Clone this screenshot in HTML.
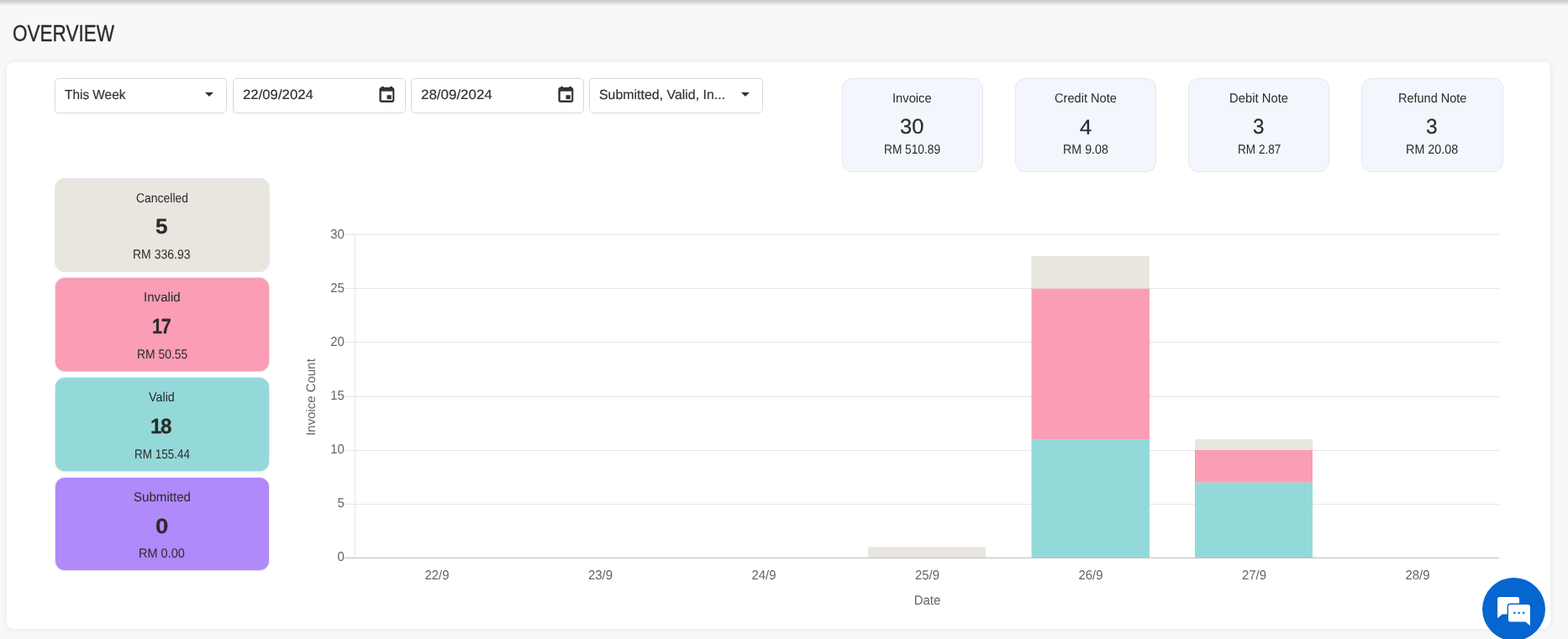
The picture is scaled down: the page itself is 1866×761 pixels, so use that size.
<!DOCTYPE html>
<html lang="en">
<head>
<meta charset="utf-8">
<title>Overview</title>
<style>
*{box-sizing:border-box;margin:0;padding:0}
html,body{width:1866px;height:761px;overflow:hidden;background:#f8f8f8}
body{position:relative;font-family:"Liberation Sans",Arial,sans-serif;color:#2b2b2b}
.topbar{position:absolute;left:0;top:0;width:1866px;height:9px;background:linear-gradient(#cdcdcd 0,#cecece 1.5px,#d6d6d6 2.5px,#dfdfdf 3.5px,#e8e8e8 4.5px,#efefef 5.5px,#f3f3f3 6.5px,#f6f6f6 7.5px,#f8f8f8 8.5px)}
h1{position:absolute;left:15px;top:24px;font-size:27px;line-height:32px;font-weight:400;color:#2b2b2b;white-space:nowrap;transform-origin:0 50%;transform:scaleX(.835);-webkit-text-stroke:.35px #2b2b2b}
.panel{position:absolute;left:8px;top:74px;width:1837px;height:675px;background:#fff;border-radius:8px;box-shadow:0 0 8px rgba(0,0,0,.07)}
.field,.stat,.st{position:absolute}
.field{border:1px solid #d9d9d9;border-radius:5px;background:#fff;color:#333}
.stat{background:#f4f6fd;border:1px solid #e5e7eb;border-radius:12px}
.st{border-radius:12px;border:1px solid #e5e7eb}
.tx{position:absolute;white-space:nowrap;transform-origin:0 0;line-height:1;text-rendering:geometricPrecision}
.ft{font-size:16px;color:#333;-webkit-text-stroke:.2px #333}
.lb{font-size:15.5px}
.nm{font-size:25px;-webkit-text-stroke:.2px #2b2b2b}
.nb{font-size:25px;font-weight:700;-webkit-text-stroke:.25px #2b2b2b}
.n2{letter-spacing:-1.5px}
.caret{position:absolute;right:15.5px;top:16px;width:0;height:0;border-left:5.25px solid transparent;border-right:5.25px solid transparent;border-top:5.5px solid #333}
.cal{position:absolute;left:172px;top:6.6px;width:22px;height:24px}
#chart{position:absolute;left:332px;top:176px}
#chart text{font-family:"Liberation Sans",Arial,sans-serif;font-size:15px;fill:#666;text-rendering:geometricPrecision}
.chat{position:absolute;left:1764px;top:688px;width:75px;height:75px;border-radius:50%;background:#0566cf}
</style>
</head>
<body>
<div class="topbar"></div>
<h1>OVERVIEW</h1>
<main class="panel">
<section class="filters">
<div class="field" style="left:57px;top:19px;width:205px;height:42px;"><span id="f1t" class="tx ft" style="left:11.14px;top:11.78px;transform:scaleX(0.9623)">This Week</span><i class="caret"></i></div>
<div class="field" style="left:269px;top:19px;width:206px;height:42px;"><span id="f2t" class="tx ft" style="left:10.72px;top:12.01px;transform:scaleX(1.0474)">22/09/2024</span><svg class="cal" viewBox="0 0 22 24" aria-hidden="true"><path fill="#333" fill-rule="evenodd" d="M4.2 2h2.700v.9h7.300V2h2.800v.9A2.400 2.400 0 0 1 19.300 5.300V18.600A2.400 2.400 0 0 1 16.900 21H3.800A2.400 2.400 0 0 1 1.400 18.600V5.300A2.400 2.400 0 0 1 3.800 2.900H4.200ZM3.800 7.800V18.600H17.200V7.800ZM10.500 12.200h5.300v4.800h-5.300Z"/></svg></div>
<div class="field" style="left:481px;top:19px;width:206px;height:42px;"><span id="f3t" class="tx ft" style="left:10.84px;top:11.95px;transform:scaleX(1.0586)">28/09/2024</span><svg class="cal" style="left:172.8px" viewBox="0 0 22 24" aria-hidden="true"><path fill="#333" fill-rule="evenodd" d="M4.2 2h2.700v.9h7.300V2h2.800v.9A2.400 2.400 0 0 1 19.300 5.300V18.600A2.400 2.400 0 0 1 16.900 21H3.800A2.400 2.400 0 0 1 1.400 18.600V5.300A2.400 2.400 0 0 1 3.800 2.900H4.200ZM3.800 7.800V18.600H17.200V7.800ZM10.500 12.200h5.300v4.800h-5.300Z"/></svg></div>
<div class="field" style="left:693px;top:19px;width:207px;height:42px;"><span id="f4t" class="tx ft" style="left:11.39px;top:11.78px;transform:scaleX(0.9944)">Submitted, Valid, In...</span><i class="caret"></i></div>
</section>
<section class="stats">
<div class="stat" style="left:994px;top:19px;width:168px;height:112px;"><span id="s1a" class="tx lb" style="left:59.22px;top:16.22px;transform:scaleX(0.9496)">Invoice</span><span id="s1b" class="tx nm" style="left:68.13px;top:45.22px;transform:scaleX(1.0197)">30</span><span id="s1c" class="tx lb" style="left:49.23px;top:76.54px;transform:scaleX(0.8842)">RM 510.89</span></div>
<div class="stat" style="left:1200px;top:19px;width:168px;height:112px;"><span id="s2a" class="tx lb" style="left:46.30px;top:16.01px;transform:scaleX(0.9425)">Credit Note</span><span id="s2b" class="tx nm" style="left:76.30px;top:45.65px;transform:scaleX(1.0233)">4</span><span id="s2c" class="tx lb" style="left:56.15px;top:76.96px;transform:scaleX(0.9208)">RM 9.08</span></div>
<div class="stat" style="left:1406px;top:19px;width:168px;height:112px;"><span id="s3a" class="tx lb" style="left:48.26px;top:16.08px;transform:scaleX(0.9558)">Debit Note</span><span id="s3b" class="tx nm" style="left:76.04px;top:45.37px;transform:scaleX(0.9710)">3</span><span id="s3c" class="tx lb" style="left:57.64px;top:76.53px;transform:scaleX(0.8772)">RM 2.87</span></div>
<div class="stat" style="left:1612px;top:19px;width:169px;height:112px;"><span id="s4a" class="tx lb" style="left:42.82px;top:15.77px;transform:scaleX(0.9352)">Refund Note</span><span id="s4b" class="tx nm" style="left:75.93px;top:45.00px;transform:scaleX(0.9795)">3</span><span id="s4c" class="tx lb" style="left:51.72px;top:77.15px;transform:scaleX(0.9281)">RM 20.08</span></div>
</section>
<section class="status">
<div class="st" style="left:57px;top:138px;width:256px;height:112px;background:#e9e6df"><span id="c1a" class="tx lb" style="left:95.97px;top:15.90px;transform:scaleX(0.9007)">Cancelled</span><span id="c1b" class="tx nb" style="left:118.85px;top:44.93px;transform:scaleX(1.0484)">5</span><span id="c1c" class="tx lb" style="left:92.25px;top:82.89px;transform:scaleX(0.9041)">RM 336.93</span></div>
<div class="st" style="left:57px;top:256px;width:256px;height:113px;background:#fa9db5"><span id="c2a" class="tx lb" style="left:104.94px;top:15.96px;transform:scaleX(0.9747)">Invalid</span><span id="c2b" class="tx nb n2" style="left:115.42px;top:46.15px;transform:scaleX(0.8595)">17</span><span id="c2c" class="tx lb" style="left:97.04px;top:83.65px;transform:scaleX(0.8979)">RM 50.55</span></div>
<div class="st" style="left:57px;top:375px;width:256px;height:113px;background:#94d9d9"><span id="c3a" class="tx lb" style="left:111.12px;top:16.12px;transform:scaleX(0.9249)">Valid</span><span id="c3b" class="tx nb n2" style="left:113.29px;top:45.87px;transform:scaleX(0.9710)">18</span><span id="c3c" class="tx lb" style="left:93.92px;top:84.13px;transform:scaleX(0.8694)">RM 155.44</span></div>
<div class="st" style="left:57px;top:494px;width:256px;height:112px;background:#b089fb"><span id="c4a" class="tx lb" style="left:92.86px;top:15.94px;transform:scaleX(0.9741)">Submitted</span><span id="c4b" class="tx nb" style="left:118.71px;top:45.87px;transform:scaleX(1.1029)">0</span><span id="c4c" class="tx lb" style="left:99.41px;top:83.22px;transform:scaleX(0.9369)">RM 0.00</span></div>
</section>
<svg id="chart" width="1480" height="490" viewBox="340 250 1480 490" role="img" aria-label="Invoice count by date">
<g id="grid" stroke="#e6e6e6" stroke-width="1" shape-rendering="crispEdges">
<line x1="410" x2="1784" y1="279.5" y2="279.5"/>
<line x1="410" x2="1784" y1="343.5" y2="343.5"/>
<line x1="410" x2="1784" y1="407.5" y2="407.5"/>
<line x1="410" x2="1784" y1="472.5" y2="472.5"/>
<line x1="410" x2="1784" y1="536.5" y2="536.5"/>
<line x1="410" x2="1784" y1="600.5" y2="600.5"/>
<line x1="422.5" x2="422.5" y1="279" y2="665"/>
</g>
<g id="bars">
<rect x="1033" y="651.47" width="140" height="12.83" fill="#e9e6df"/>
<rect x="1227.5" y="523.13" width="140.5" height="141.17" fill="#94d9d9"/>
<rect x="1227.5" y="343.47" width="140.5" height="179.67" fill="#fa9db5"/>
<rect x="1227.5" y="304.97" width="140.5" height="38.50" fill="#e9e6df"/>
<rect x="1422" y="574.47" width="140" height="89.83" fill="#94d9d9"/>
<rect x="1422" y="535.97" width="140" height="38.50" fill="#fa9db5"/>
<rect x="1422" y="523.13" width="140" height="12.83" fill="#e9e6df"/>
</g>
<line x1="410" x2="1784" y1="664.5" y2="664.5" stroke="#bdbdbd" stroke-width="1" shape-rendering="crispEdges"/>
<g text-anchor="end">
<text transform="translate(409.9,284.4) scale(1,1.04)">30</text>
<text transform="translate(409.9,348.4) scale(1,1.04)">25</text>
<text transform="translate(409.9,412.4) scale(1,1.04)">20</text>
<text transform="translate(409.9,476.4) scale(1,1.04)">15</text>
<text transform="translate(409.9,540.4) scale(1,1.04)">10</text>
<text transform="translate(409.9,604.4) scale(1,1.04)">5</text>
<text transform="translate(409.9,668.4) scale(1,1.04)">0</text>
</g>
<g text-anchor="middle">
<text transform="translate(520,690.4) scale(1,1.04)">22/9</text>
<text transform="translate(714.5,690.4) scale(1,1.04)">23/9</text>
<text transform="translate(909,690.4) scale(1,1.04)">24/9</text>
<text transform="translate(1103.5,690.4) scale(1,1.04)">25/9</text>
<text transform="translate(1298,690.4) scale(1,1.04)">26/9</text>
<text transform="translate(1492.5,690.4) scale(1,1.04)">27/9</text>
<text transform="translate(1687,690.4) scale(1,1.04)">28/9</text>
<text transform="translate(1103.5,720.4) scale(1,1.04)">Date</text>
<text transform="translate(375,473) rotate(-90)">Invoice Count</text>
</g>
</svg>
</main>
<div class="chat" role="button" aria-label="Chat">
<svg width="75" height="75" viewBox="0 0 75 75" aria-hidden="true"><path fill="#fff" d="M20.600 23H41.600A2.500 2.500 0 0 1 44.100 25.500V41.100A2.500 2.500 0 0 1 41.600 43.600H23.800L18.100 48.300V25.500A2.500 2.500 0 0 1 20.600 23Z"/><path fill="#fff" stroke="#0566cf" stroke-width="2.800" paint-order="stroke" d="M33.500 32H54.400A2.500 2.500 0 0 1 56.900 34.500V57.100L51.300 52.500H33.500A2.500 2.500 0 0 1 31 50V34.500A2.500 2.500 0 0 1 33.500 32Z"/><g fill="#0566cf"><rect x="37.300" y="40.800" width="2.100" height="2.100" rx=".4"/><rect x="42.700" y="40.800" width="2.100" height="2.100" rx=".4"/><rect x="48.100" y="40.800" width="2.100" height="2.100" rx=".4"/></g></svg>
</div>
</body>
</html>
